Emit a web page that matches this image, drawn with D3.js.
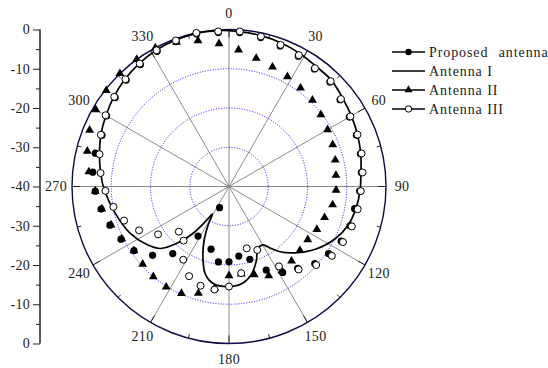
<!DOCTYPE html>
<html>
<head>
<meta charset="utf-8">
<script src="https://cdn.jsdelivr.net/npm/d3@7"></script>
<style>
  html, body { margin: 0; padding: 0; background: #fff; }
  svg { display: block; }
  text { font-family: "Liberation Serif", "Times New Roman", serif; fill: #222; }
</style>
</head>
<body>
<svg id="chart" width="548" height="368"></svg>
<script>
// Radiation pattern (dB) versus angle (degrees, clockwise from top)
const markerAngles = [4, 12, 20, 28, 36, 44, 52, 60, 68, 76, 84, 92, 100, 108, 116, 124, 132, 140, 148, 156,
  164, 172, 180, 188, 196, 204, 212, 220, 228, 236, 244, 252, 260, 268, 276, 284, 292, 300, 308, 316, 324, 332, 340, 348, 356];

const proposedValues = [-0.7, -1.2, -1.9, -2.4, -3.0, -3.0, -4.1, -4.6, -5.0, -5.5, -6.1, -6.7, -7.5, -7.6, -8.2, -9.4, -10.6, -12.8, -14.2, -16.7,
  -20.7, -22.1, -20.8, -20.6, -23.4, -34.1, -25.1, -17.7, -13.8, -10.8, -9.4, -8.1, -6.9, -5.9, -5.1, -4.9, -5.1, -4.0, -3.2, -2.3, -1.6, -1.0, -0.7, -0.3, -0.7];

const antennaIIValues = [-5.1, -6.6, -7.6, -8.3, -9.0, -9.4, -10.3, -11.0, -11.5, -12.1, -12.6, -12.7, -13.2, -14.4, -15.1, -15.8, -15.7, -15.2, -14.6, -15.1,
  -16.6, -17.5, -17.3, -13.8, -11.7, -10.2, -9.8, -10.0, -10.4, -10.8, -9.6, -8.4, -7.1, -5.9, -4.1, -2.8, -1.7, -0.8, -0.3, 0, 0, 0, -0.9, -2.0, -3.5];

const antennaIIIValues = [-0.4, -0.9, -1.6, -2.1, -2.75, -2.7, -3.8, -4.3, -4.7, -5.2, -5.8, -6.4, -6.7, -7.1, -7.7, -8.4, -10.1, -12.4, -16.0, -22.3,
  -23.6, -17.7, -14.5, -13.5, -13.7, -15.0, -18.0, -22.0, -22.8, -18.2, -14.5, -11.9, -10.1, -8.5, -7.1, -6.0, -4.8, -3.7, -2.9, -2.0, -1.3, -0.7, -0.4, 0, -0.4];

// Antenna I is drawn as a continuous curve
const antennaIAngles = [0, 12, 20, 28, 36, 44, 52, 60, 68, 76, 84, 92, 100, 108, 116, 126, 135, 142, 146, 150, 155, 160, 166, 172, 180,
  189, 195, 200, 204.5, 208.5, 211, 214, 217.5, 221.5, 228, 235, 245, 257, 268, 276, 284, 292, 300, 308, 316, 324, 332, 340, 348, 356];
const antennaIValues = [-0.3, -0.7, -1.1, -1.6, -2.2, -2.4, -3.3, -4.0, -4.7, -5.4, -6.2, -6.6, -7.2, -8.1, -9.8, -12.8, -16.1, -18.9, -21.0, -22.8, -22.6, -19.7, -16.8, -15.1, -14.5,
  -14.9, -16.8, -20.6, -24.6, -28.9, -31.8, -29.1, -25.0, -21.2, -16.4, -14.3, -12.1, -10.2, -8.3, -7.1, -6.0, -4.8, -3.8, -2.8, -1.9, -1.2, -0.6, -0.3, -0.1, -0.2];

const angleTickLabels = [0, 30, 60, 90, 120, 150, 180, 210, 240, 270, 300, 330];
const radialGridValues = [-30, -20, -10];
const axisLabelsUpper = [0, -10, -20, -30, -40];
const axisLabelsLower = [-30, -20, -10, 0];
const seriesNames = ["Proposed antenna", "Antenna I", "Antenna II", "Antenna III"];

const svg = d3.select("#chart");
const cx = 229, cy = 186.5, R = 157;

const r = d3.scaleLinear().domain([-40, 0]).range([0, R]);
const rad = d => d * Math.PI / 180;
const px = (a, v) => r(v) * Math.sin(rad(a));
const py = (a, v) => -r(v) * Math.cos(rad(a));

const g = svg.append("g").attr("transform", `translate(${cx},${cy})`);

// spokes every 30 degrees
g.append("g").selectAll("line").data(angleTickLabels).join("line")
  .attr("x1", 0).attr("y1", 0)
  .attr("x2", d => px(d, 0)).attr("y2", d => py(d, 0))
  .attr("stroke", "#8c8c8c").attr("stroke-width", 1);

// dotted grid circles
g.append("g").selectAll("circle").data(radialGridValues).join("circle")
  .attr("r", d => r(d)).attr("fill", "none")
  .attr("stroke", "#1a1aff").attr("stroke-width", 1)
  .attr("stroke-dasharray", "1,1.6");

// outer circle
g.append("circle").attr("r", r(0)).attr("fill", "none")
  .attr("stroke", "#0b0b45").attr("stroke-width", 1.4);

// angular ticks: major every 30, minor every 15
const minorTicks = angleTickLabels.map(d => d + 15);
g.append("g").selectAll("line").data(angleTickLabels).join("line")
  .attr("x1", d => px(d, 0)).attr("y1", d => py(d, 0))
  .attr("x2", d => (R - 8) * Math.sin(rad(d))).attr("y2", d => -(R - 8) * Math.cos(rad(d)))
  .attr("stroke", "#222").attr("stroke-width", 1);
g.append("g").selectAll("line").data(minorTicks).join("line")
  .attr("x1", d => px(d, 0)).attr("y1", d => py(d, 0))
  .attr("x2", d => (R - 4) * Math.sin(rad(d))).attr("y2", d => -(R - 4) * Math.cos(rad(d)))
  .attr("stroke", "#222").attr("stroke-width", 1);

// angle labels
g.append("g").selectAll("text").data(angleTickLabels).join("text")
  .attr("x", d => 173 * Math.sin(rad(d)))
  .attr("y", d => -173 * Math.cos(rad(d)))
  .attr("text-anchor", "middle").attr("dominant-baseline", "central")
  .attr("font-size", 14).attr("letter-spacing", 0.3)
  .text(d => d);

// Antenna I curve
const curveData = antennaIAngles.map((a, i) => [rad(a), r(antennaIValues[i])]);
g.append("path").datum(curveData)
  .attr("d", d3.lineRadial().angle(d => d[0]).radius(d => d[1]).curve(d3.curveCatmullRomClosed.alpha(0.5)))
  .attr("fill", "none").attr("stroke", "#000").attr("stroke-width", 1.7);

// Antenna II triangles
const tri = d3.symbol().type(d3.symbolTriangle).size(34);
g.append("g").selectAll("path").data(markerAngles).join("path")
  .attr("d", tri)
  .attr("transform", (a, i) => `translate(${px(a, antennaIIValues[i])},${py(a, antennaIIValues[i])})`)
  .attr("fill", "#000");

// Proposed antenna filled circles
g.append("g").selectAll("circle").data(markerAngles).join("circle")
  .attr("cx", (a, i) => px(a, proposedValues[i]))
  .attr("cy", (a, i) => py(a, proposedValues[i]))
  .attr("r", 3.6).attr("fill", "#000");

// Antenna III hollow circles
g.append("g").selectAll("circle").data(markerAngles).join("circle")
  .attr("cx", (a, i) => px(a, antennaIIIValues[i]))
  .attr("cy", (a, i) => py(a, antennaIIIValues[i]))
  .attr("r", 3.5).attr("fill", "#fff").attr("stroke", "#000").attr("stroke-width", 1);

// left dB axis, upper and lower halves
const axisX = 40;
const yUpper = d3.scaleLinear().domain([0, -40]).range([cy - R, cy]);
const yLower = d3.scaleLinear().domain([-40, 0]).range([cy, cy + R]);
const fmt = d => String(d);
function drawAxis(scale, major, minor) {
  const ax = svg.append("g").attr("transform", `translate(${axisX},0)`);
  ax.call(d3.axisLeft(scale).tickValues(major).tickSize(7).tickPadding(3).tickFormat(fmt));
  ax.append("g").call(d3.axisLeft(scale).tickValues(minor).tickSize(4).tickFormat(""));
  ax.selectAll(".domain").attr("stroke", "#222");
  ax.selectAll(".tick line").attr("stroke", "#222");
  ax.selectAll(".tick text").attr("font-size", 14).attr("fill", "#222")
    .attr("font-family", "Liberation Serif, serif").attr("letter-spacing", 0.3);
  ax.selectAll(".domain").attr("d", `M0,${scale.range()[0]}V${scale.range()[1]}`);
}
drawAxis(yUpper, axisLabelsUpper, [-5, -15, -25, -35]);
drawAxis(yLower, axisLabelsLower, [-35, -25, -15, -5]);

// legend
const legendY = [52, 71, 90, 109];
const lg = svg.append("g");
seriesNames.forEach((name, i) => {
  const y = legendY[i];
  lg.append("line").attr("x1", 392).attr("x2", 425).attr("y1", y).attr("y2", y)
    .attr("stroke", "#000").attr("stroke-width", 1.5);
  if (i === 0) lg.append("circle").attr("cx", 408.5).attr("cy", y).attr("r", 3.2).attr("fill", "#000");
  if (i === 2) lg.append("path").attr("d", d3.symbol().type(d3.symbolTriangle).size(28)())
    .attr("transform", `translate(408.5,${y})`).attr("fill", "#000");
  if (i === 3) lg.append("circle").attr("cx", 408.5).attr("cy", y).attr("r", 3.2)
    .attr("fill", "#fff").attr("stroke", "#000").attr("stroke-width", 1);
  lg.append("text").attr("x", 429).attr("y", y).attr("dominant-baseline", "central")
    .attr("font-size", 14).attr("letter-spacing", 0.9).attr("word-spacing", i === 0 ? 6 : 0)
    .text(name);
});
</script>
</body>
</html>
